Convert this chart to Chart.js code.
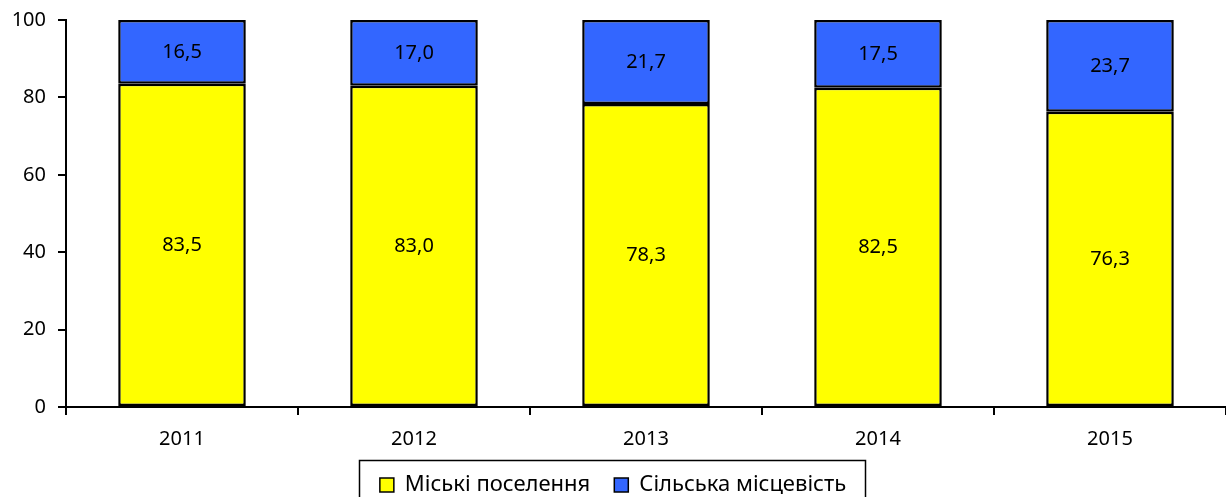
<!DOCTYPE html>
<html>
<head>
<meta charset="utf-8">
<script src="https://cdn.jsdelivr.net/npm/chart.js@4/dist/chart.umd.min.js"></script>
<style>
  html, body { margin: 0; padding: 0; background: #ffffff; }
  #wrap { width: 1226px; height: 497px; }
</style>
</head>
<body>
<div id="wrap"><canvas id="c" width="1226" height="497"></canvas></div>
<script>
const years = ['2011', '2012', '2013', '2014', '2015'];
const urban = [83.5, 83.0, 78.3, 82.5, 76.3];
const rural = [16.5, 17.0, 21.7, 17.5, 23.7];
const seriesNames = ['Міські поселення', 'Сільська місцевість'];
const yTicks = [0, 20, 40, 60, 80, 100];

const FONT = '"Noto Sans", "DejaVu Sans", sans-serif';

const valueLabels = {
  id: 'valueLabels',
  afterDatasetsDraw(chart) {
    const ctx = chart.ctx;
    ctx.save();
    ctx.font = '20px ' + FONT;
    ctx.fillStyle = '#000';
    ctx.textAlign = 'center';
    ctx.textBaseline = 'middle';
    chart.data.datasets.forEach((ds, di) => {
      const meta = chart.getDatasetMeta(di);
      meta.data.forEach((el, i) => {
        const v = ds.data[i];
        const y = (el.y + el.base) / 2;
        ctx.fillText(v.toFixed(1).replace('.', ','), el.x, y);
      });
    });
    ctx.restore();
  }
};

const legendBorder = {
  id: 'legendBorder',
  afterDraw(chart) {
    const lg = chart.legend;
    if (!lg || !lg.legendHitBoxes || !lg.legendHitBoxes.length) return;
    const boxes = lg.legendHitBoxes;
    let l = Infinity, r = -Infinity, t = Infinity;
    boxes.forEach(h => {
      l = Math.min(l, h.left); r = Math.max(r, h.left + h.width);
      t = Math.min(t, h.top);
    });
    const ctx = chart.ctx;
    ctx.save();
    ctx.strokeStyle = '#000';
    ctx.lineWidth = 1.5;
    ctx.strokeRect(Math.round(l) - 21 + 0.5, Math.round(t) - 14 + 0.5, Math.round(r - l) + 40, 80);
    ctx.restore();
  }
};

new Chart(document.getElementById('c'), {
  type: 'bar',
  data: {
    labels: years,
    datasets: [
      { label: seriesNames[0], data: urban, backgroundColor: '#FFFF00', borderColor: '#000', borderWidth: 2.5, borderSkipped: false },
      { label: seriesNames[1], data: rural, backgroundColor: '#3366FF', borderColor: '#000', borderWidth: 2.5, borderSkipped: false }
    ]
  },
  options: {
    responsive: false,
    animation: false,
    devicePixelRatio: 1,
    layout: { padding: { top: 20, right: 0, left: 0, bottom: -9 } },
    datasets: { bar: { categoryPercentage: 1.0, barPercentage: 0.55 } },
    plugins: {
      tooltip: { enabled: false },
      legend: {
        position: 'bottom',
        labels: {
          font: { family: FONT, size: 22 },
          color: '#000',
          boxWidth: 14,
          boxHeight: 14,
          padding: 24,
          generateLabels(chart) {
            return chart.data.datasets.map((ds, i) => ({
              text: ds.label,
              fillStyle: ds.backgroundColor,
              strokeStyle: '#000',
              lineWidth: 1.5,
              datasetIndex: i,
              hidden: false
            }));
          }
        }
      }
    },
    scales: {
      x: {
        stacked: true,
        grid: { display: true, drawOnChartArea: false, offset: true, tickLength: 8, color: '#000', lineWidth: 2 },
        border: { display: true, color: '#000', width: 2 },
        ticks: { font: { family: FONT, size: 20 }, color: '#000', padding: 12, maxRotation: 0 },
        afterFit(scale) { scale.height = 43; }
      },
      y: {
        stacked: true,
        min: 0,
        max: 100,
        afterBuildTicks(scale) { scale.ticks = yTicks.map(v => ({ value: v })); },
        grid: { display: true, drawOnChartArea: false, tickLength: 8, color: '#000', lineWidth: 2 },
        border: { display: true, color: '#000', width: 2 },
        ticks: { font: { family: FONT, size: 20, lineHeight: 0.5 }, color: '#000', padding: 12 },
        afterFit(scale) { scale.width = 66; }
      }
    }
  },
  plugins: [valueLabels, legendBorder]
});
</script>
</body>
</html>
